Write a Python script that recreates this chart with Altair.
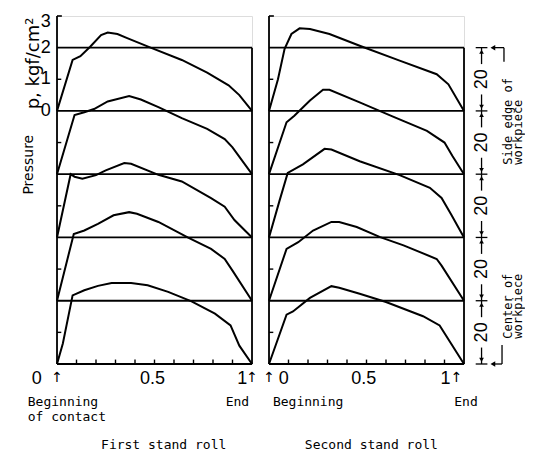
import altair as alt
import pandas as pd

# ---------------- data ----------------
# curves listed from side edge of workpiece (top) to center (bottom)
baselines = [8, 6, 4, 2, 0]

first_x = [
    [0, 0.08, 0.12, 0.17, 0.226, 0.26, 0.31, 0.36, 0.48, 0.64, 0.77, 0.88, 0.935, 1],
    [0, 0.09, 0.14, 0.19, 0.26, 0.37, 0.43, 0.52, 0.64, 0.77, 0.86, 0.90, 1],
    [0, 0.07, 0.09, 0.13, 0.20, 0.25, 0.345, 0.38, 0.52, 0.64, 0.79, 0.86, 0.91, 1],
    [0, 0.086, 0.14, 0.21, 0.29, 0.37, 0.41, 0.52, 0.67, 0.79, 0.86, 0.90, 1],
    [0, 0.03, 0.08, 0.14, 0.21, 0.28, 0.38, 0.465, 0.57, 0.69, 0.81, 0.89, 0.935, 1],
]
first_p = [
    [0, 1.61, 1.73, 2.03, 2.40, 2.48, 2.43, 2.30, 2.00, 1.61, 1.21, 0.81, 0.50, 0],
    [0, 1.87, 1.96, 2.06, 2.30, 2.47, 2.36, 2.12, 1.77, 1.43, 1.11, 0.85, 0],
    [0, 2.00, 1.92, 1.86, 1.97, 2.12, 2.35, 2.33, 1.98, 1.77, 1.24, 0.97, 0.55, 0],
    [0, 2.11, 2.22, 2.43, 2.70, 2.80, 2.75, 2.49, 2.00, 1.64, 1.32, 0.95, 0],
    [0, 0.65, 2.17, 2.33, 2.47, 2.56, 2.56, 2.49, 2.28, 1.98, 1.59, 1.22, 0.58, 0],
]
second_x = [
    [0, 0.046, 0.08, 0.115, 0.157, 0.21, 0.31, 0.465, 0.67, 0.86, 0.92, 1],
    [0, 0.09, 0.13, 0.21, 0.277, 0.31, 0.465, 0.636, 0.81, 0.90, 0.94, 1],
    [0, 0.053, 0.096, 0.174, 0.285, 0.32, 0.465, 0.67, 0.825, 0.885, 0.935, 1],
    [0, 0.09, 0.15, 0.226, 0.32, 0.36, 0.45, 0.57, 0.69, 0.86, 0.885, 1],
    [0, 0.09, 0.123, 0.21, 0.32, 0.36, 0.465, 0.60, 0.79, 0.875, 1],
]
second_p = [
    [0, 1.00, 1.96, 2.43, 2.61, 2.59, 2.43, 2.06, 1.59, 1.16, 0.84, 0],
    [0, 1.64, 1.85, 2.33, 2.67, 2.67, 2.27, 1.82, 1.37, 1.00, 0.58, 0],
    [0, 1.14, 2.04, 2.31, 2.80, 2.78, 2.41, 1.97, 1.57, 1.25, 0.72, 0],
    [0, 1.64, 1.85, 2.22, 2.49, 2.49, 2.33, 2.01, 1.75, 1.32, 1.11, 0],
    [0, 1.56, 1.66, 2.09, 2.46, 2.41, 2.22, 1.96, 1.51, 1.22, 0],
]

grid_lines = [0, 2, 4, 6, 8, 10]
left_ticks = [1, 3, 5, 7, 9]
bottom_ticks = [0.1, 0.2, 0.3, 0.4, 0.5, 0.6, 0.7, 0.8, 0.9]
p_labels = ["0", "1", "2", "3"]
p_label_y = [8, 9, 10, 10.8]
dim_labels = ["20", "20", "20", "20", "20"]

W, H = 195, 348
MONO = "DejaVu Sans Mono"
SANS = "Liberation Sans"


def X(field="x"):
    return alt.X(f"{field}:Q", scale=alt.Scale(domain=[0, 1], nice=False, zero=False), axis=None)


def Y(field="y"):
    return alt.Y(f"{field}:Q", scale=alt.Scale(domain=[0, 11], nice=False, zero=False), axis=None)


def curves_df(xs, ps):
    rows = []
    for i, (cx, cp) in enumerate(zip(xs, ps)):
        for j, (a, b) in enumerate(zip(cx, cp)):
            rows.append({"curve": i, "order": j, "x": a, "y": baselines[i] + b})
    return pd.DataFrame(rows)


def frame_layers(right_edge_top=10):
    hl = alt.Chart(pd.DataFrame({"y": grid_lines})).mark_rule(color="black", strokeWidth=1.8).encode(y=Y())
    left_axis = alt.Chart(pd.DataFrame({"x": [0], "y": [0], "y2": [11]})).mark_rule(
        color="black", strokeWidth=1.8).encode(x=X(), y=Y(), y2="y2:Q")
    right_axis = alt.Chart(pd.DataFrame({"x": [1], "y": [0], "y2": [right_edge_top]})).mark_rule(
        color="black", strokeWidth=1.8).encode(x=X(), y=Y(), y2="y2:Q")
    top_tick = alt.Chart(pd.DataFrame({"x": [0], "x2": [0.025], "y": [11]})).mark_rule(
        color="black", strokeWidth=1.6).encode(x=X(), x2="x2:Q", y=Y())
    lt = alt.Chart(pd.DataFrame({"y": left_ticks, "x": [0] * 5, "x2": [0.022] * 5})).mark_rule(
        color="black", strokeWidth=1.4).encode(x=X(), x2="x2:Q", y=Y())
    bt = alt.Chart(pd.DataFrame({"x": bottom_ticks, "y": [0] * 9, "y2": [0.14] * 9})).mark_rule(
        color="black", strokeWidth=1.4).encode(x=X(), y=Y(), y2="y2:Q")
    return [hl, left_axis, right_axis, top_tick, lt, bt]


def text_layer(df, **kw):
    return alt.Chart(df).mark_text(color="black", **kw).encode(x=X(), y=Y(), text="t:N")


def curve_layer(xs, ps):
    return alt.Chart(curves_df(xs, ps)).mark_line(color="black", strokeWidth=2).encode(
        x=X(), y=Y(), detail="curve:N", order="order:Q")


# ---------------- left panel ----------------
left_layers = frame_layers() + [curve_layer(first_x, first_p)]
left_layers.append(text_layer(pd.DataFrame({"t": p_labels, "x": [-0.032] * 4, "y": p_label_y}),
                              font=SANS, fontSize=18, align="right", baseline="middle"))
left_layers.append(text_layer(pd.DataFrame({"t": ["p, kgf/cm²"], "x": [-0.118], "y": [9.5]}),
                              font="DejaVu Sans", fontSize=18, angle=270, align="center", baseline="middle"))
left_layers.append(text_layer(pd.DataFrame({"t": ["Pressure"], "x": [-0.145], "y": [6.3]}),
                              font="DejaVu Sans", fontSize=14, angle=270, align="center", baseline="middle"))
left_layers.append(text_layer(pd.DataFrame({"t": ["0", "0.5", "1"], "x": [-0.104, 0.49, 0.95], "y": [-0.47] * 3}),
                              font=SANS, fontSize=18, align="center", baseline="middle"))
left_layers.append(text_layer(pd.DataFrame({"t": ["↑", "↑"], "x": [0.0, 1.0], "y": [-0.45] * 2}),
                              font="DejaVu Sans", fontSize=14, align="center", baseline="middle"))
left_layers.append(text_layer(pd.DataFrame({"t": ["Beginning", "of contact", "End"],
                                            "x": [-0.15, -0.15, 0.865], "y": [-1.2, -1.68, -1.2]}),
                              font=MONO, fontSize=13, align="left", baseline="middle"))
left_layers.append(text_layer(pd.DataFrame({"t": ["First stand roll"], "x": [0.547], "y": [-2.55]}),
                              font=MONO, fontSize=13, align="center", baseline="middle"))
left = alt.layer(*left_layers).properties(width=W, height=H)

# ---------------- right panel ----------------
right_layers = frame_layers() + [curve_layer(second_x, second_p)]
right_layers.append(text_layer(pd.DataFrame({"t": ["0", "0.5", "1"], "x": [0.075, 0.486, 0.905], "y": [-0.47] * 3}),
                               font=SANS, fontSize=18, align="center", baseline="middle"))
right_layers.append(text_layer(pd.DataFrame({"t": ["↑", "↑"], "x": [0.0, 0.962], "y": [-0.45] * 2}),
                               font="DejaVu Sans", fontSize=14, align="center", baseline="middle"))
right_layers.append(text_layer(pd.DataFrame({"t": ["Beginning", "End"], "x": [0.02, 0.95], "y": [-1.2, -1.2]}),
                               font=MONO, fontSize=13, align="left", baseline="middle"))
right_layers.append(text_layer(pd.DataFrame({"t": ["Second stand roll"], "x": [0.525], "y": [-2.55]}),
                               font=MONO, fontSize=13, align="center", baseline="middle"))

# dimension line on the right
DX = 1.09
seg_rows = []
for k in range(5):
    seg_rows.append({"x": DX, "y": 2 * k, "y2": 2 * k + 0.52})
    seg_rows.append({"x": DX, "y": 2 * k + 1.48, "y2": 2 * k + 2})
right_layers.append(alt.Chart(pd.DataFrame(seg_rows)).mark_rule(color="black", strokeWidth=1.3).encode(
    x=X(), y=Y(), y2="y2:Q"))
right_layers.append(alt.Chart(pd.DataFrame({"y": grid_lines, "x": [1.06] * 6, "x2": [1.12] * 6})).mark_rule(
    color="black", strokeWidth=1.3).encode(x=X(), x2="x2:Q", y=Y()))
tri_rows = []
for g in grid_lines:
    if g < 10:
        tri_rows.append({"x": DX, "y": g + 0.13, "s": "triangle-down"})
    if g > 0:
        tri_rows.append({"x": DX, "y": g - 0.13, "s": "triangle-up"})
right_layers.append(alt.Chart(pd.DataFrame(tri_rows)).mark_point(filled=True, color="black", size=22, opacity=1).encode(
    x=X(), y=Y(), shape=alt.Shape("s:N", scale=None)))
right_layers.append(text_layer(pd.DataFrame({"t": dim_labels, "x": [DX] * 5, "y": left_ticks}),
                               font=SANS, fontSize=18, angle=270, align="center", baseline="middle"))
right_layers.append(text_layer(pd.DataFrame({"t": ["Side edge of\nworkpiece", "Center of\nworkpiece"],
                                             "x": [1.225, 1.225], "y": [6.3, 0.8]}),
                               font=MONO, fontSize=12, angle=270, align="left", baseline="middle",
                               lineBreak="\n", lineHeight=10))
# bent arrows marking side edge and center
arrow_h = pd.DataFrame({"x": [1.15, 1.15], "x2": [1.205, 1.195], "y": [10, 0]})
arrow_v = pd.DataFrame({"x": [1.205, 1.195], "y": [10, 0], "y2": [9.55, 0.6]})
right_layers.append(alt.Chart(arrow_h).mark_rule(color="black", strokeWidth=1.3).encode(x=X(), x2="x2:Q", y=Y()))
right_layers.append(alt.Chart(arrow_v).mark_rule(color="black", strokeWidth=1.3).encode(x=X(), y=Y(), y2="y2:Q"))
right_layers.append(alt.Chart(pd.DataFrame({"x": [1.148, 1.148], "y": [10, 0]})).mark_point(
    shape="triangle-left", filled=True, color="black", size=30, opacity=1).encode(x=X(), y=Y()))

right = alt.layer(*right_layers).properties(width=W, height=H)

chart = alt.hconcat(left, right, spacing=17, bounds="flush").resolve_scale(
    x="independent", y="independent"
).properties(
    padding={"left": 13, "top": 4, "right": 0, "bottom": 0}
).configure_view(stroke=None).configure(background="white")

chart.save("out.html", embed_options={"renderer": "svg", "actions": False})
